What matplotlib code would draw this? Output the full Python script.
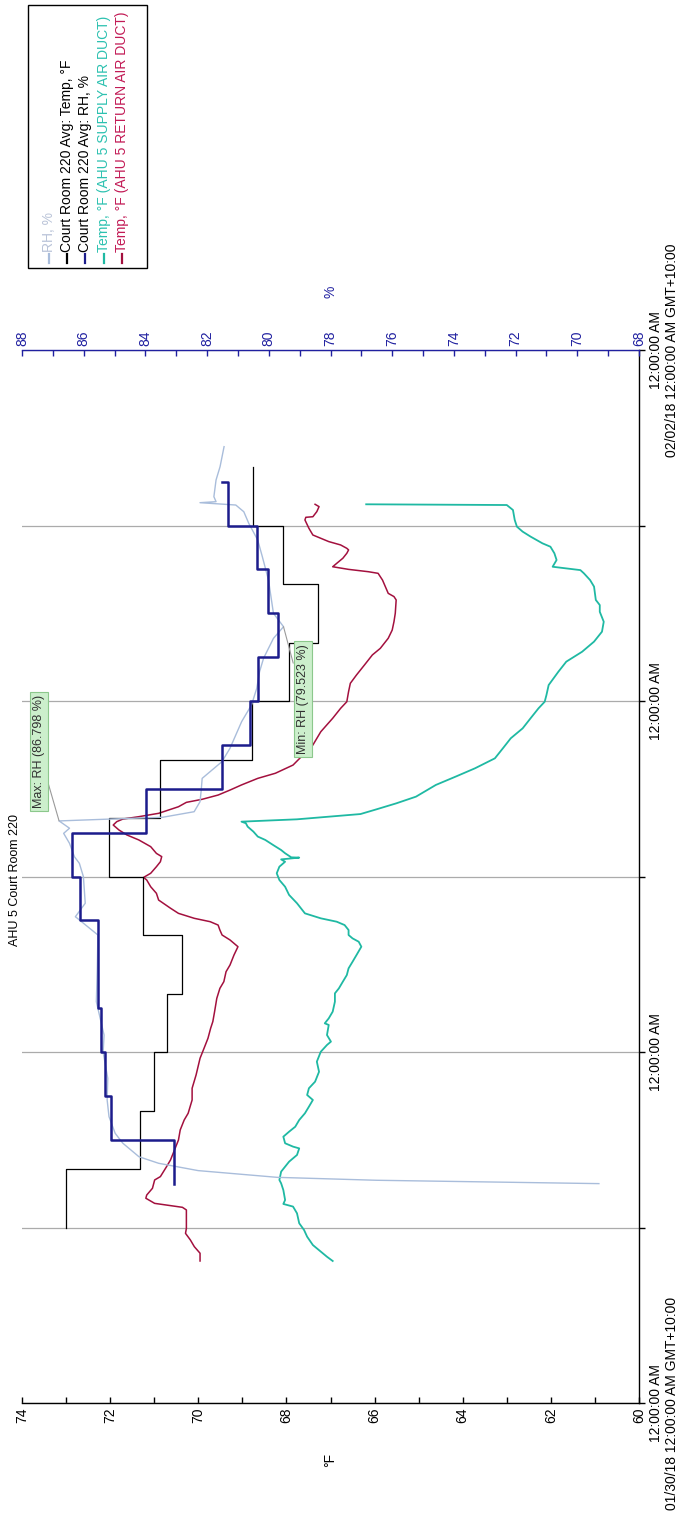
import numpy as np
import matplotlib
matplotlib.use("Agg")
import matplotlib.pyplot as plt
from matplotlib.lines import Line2D
from matplotlib.patches import Rectangle
from matplotlib.ticker import MultipleLocator

plt.rcParams['font.family'] = ['Liberation Sans', 'DejaVu Sans']

# ---------------- data (hours after 01/30/18 12:00:00 AM) ----------------
room_temp_edges = [12, 16, 20, 24, 28, 32, 36, 40, 44, 48, 52, 56, 60, 64]
room_temp_values = [73.01, 71.33, 71.01, 70.70, 70.38, 71.26, 72.03, 70.86,
                    68.78, 67.94, 67.29, 68.08, 68.76]

room_rh_edges = [15, 18, 21, 24, 27, 30, 33, 36, 39, 42, 45, 48, 51, 54, 57, 60, 63, 63]
room_rh_values = [83.06, 85.10, 85.32, 85.44, 85.55, 85.55, 86.11, 86.38, 83.98,
                  81.52, 80.62, 80.34, 79.71, 80.01, 80.39, 81.33, 81.52]

rh_hours = [15.0, 15.23, 15.43, 15.89, 16.39, 16.84, 17.76, 18.44, 19.58, 20.72,
            22.2, 23.98, 25.16, 27.44, 29.72, 32.0, 33.03, 33.25, 34.17, 35.99,
            36.9, 37.35, 38.27, 38.95, 39.3, 39.8, 39.93, 40.05, 40.43, 41.11,
            41.91, 42.71, 43.85, 44.76, 46.59, 47.73, 48.87, 50.0, 50.92, 52.28,
            53.08, 54.0, 56.27, 57.87, 59.01, 60.15, 60.94, 61.40, 61.56, 61.63,
            61.97, 63.11, 64.02, 65.39]
rh_values = [69.30, 76.52, 79.73, 82.29, 83.57, 84.21, 84.73, 84.98, 85.18, 85.24,
             85.22, 85.37, 85.34, 85.59, 85.56, 85.54, 86.14, 86.27, 85.95, 86.01,
             86.14, 86.30, 86.46, 86.65, 86.46, 86.798, 85.11, 83.44, 82.42, 82.23,
             82.19, 82.16, 81.52, 81.26, 80.88, 80.56, 80.39, 80.30, 80.17, 79.85,
             79.523, 79.85, 80.01, 80.21, 80.36, 80.65, 80.81, 81.07, 82.23, 81.71,
             81.78, 81.71, 81.58, 81.45]

supply_hours = [9.71, 10.0, 10.35, 10.8, 11.37, 11.83, 12.29, 12.97, 13.43, 13.61,
                13.88, 14.56, 15.02, 15.25, 15.82, 16.16, 16.5, 16.96, 17.41, 17.53,
                17.76, 18.21, 18.55, 18.89, 19.35, 19.81, 20.26, 20.72, 21.06, 21.52,
                21.97, 22.65, 23.34, 24.02, 24.48, 24.71, 25.16, 25.85, 25.96, 26.3,
                26.76, 27.44, 28.01, 28.35, 28.81, 29.26, 29.72, 30.17, 30.63, 31.2,
                31.54, 31.77, 32.0, 32.34, 32.68, 32.91, 33.14, 33.48, 34.17, 34.74,
                35.3, 35.76, 36.22, 36.67, 37.01, 37.17, 37.29, 37.31, 37.59, 37.81,
                38.15, 38.5, 38.73, 39.07, 39.41, 39.64, 39.75, 39.91, 40.27, 40.59,
                41.0, 41.46, 42.26, 42.83, 43.4, 44.08, 44.76, 45.45, 46.13, 46.82,
                47.5, 47.95, 48.41, 49.09, 50.0, 50.69, 51.37, 52.06, 52.74, 53.42,
                54.1, 54.56, 54.91, 55.82, 56.27, 56.73, 56.95, 57.18, 57.64, 58.1,
                58.55, 58.78, 59.24, 59.58, 59.92, 60.38, 61.06, 61.4, 61.45]
supply_temp = [66.95, 67.08, 67.22, 67.40, 67.53, 67.60, 67.71, 67.76, 67.85, 68.07,
               68.03, 68.07, 68.12, 68.16, 68.12, 68.03, 67.94, 67.76, 67.71, 67.85,
               68.03, 68.07, 67.94, 67.80, 67.71, 67.58, 67.49, 67.40, 67.53, 67.49,
               67.35, 67.26, 67.31, 67.22, 67.08, 66.99, 67.08, 67.04, 67.13, 67.04,
               66.95, 66.90, 66.90, 66.81, 66.72, 66.63, 66.59, 66.50, 66.41, 66.30,
               66.36, 66.50, 66.59, 66.59, 66.68, 66.86, 67.22, 67.58, 67.76, 67.94,
               68.03, 68.16, 68.22, 68.16, 68.03, 68.12, 67.71, 67.89, 68.03, 68.12,
               68.30, 68.48, 68.65, 68.75, 68.88, 68.92, 69.02, 67.76, 66.32, 65.96,
               65.51, 65.06, 64.61, 64.16, 63.72, 63.27, 63.09, 62.91, 62.64, 62.46,
               62.28, 62.14, 62.10, 62.05, 61.83, 61.65, 61.29, 61.02, 60.84, 60.80,
               60.89, 60.89, 60.98, 61.02, 61.11, 61.25, 61.33, 61.96, 61.87, 61.92,
               62.01, 62.19, 62.46, 62.64, 62.77, 62.82, 62.86, 63.00, 66.19]

return_hours = [9.71, 10.24, 10.69, 11.15, 11.6, 11.94, 13.2, 13.38, 13.65, 14.0,
                14.22, 14.68, 15.25, 15.48, 16.16, 16.62, 17.3, 17.98, 18.67, 19.35,
                19.81, 20.72, 21.52, 22.43, 23.57, 24.25, 24.94, 25.62, 26.08, 26.76,
                27.67, 28.35, 28.81, 29.49, 29.95, 30.63, 31.2, 31.66, 32.0, 32.34,
                32.68, 32.91, 33.14, 33.48, 33.83, 34.39, 34.85, 35.3, 35.76, 35.94,
                36.22, 36.67, 37.01, 37.36, 37.58, 38.04, 38.5, 38.84, 39.18, 39.52,
                39.75, 39.93, 40.09, 40.32, 40.77, 41.07, 41.28, 41.57, 41.91, 42.26,
                42.71, 43.06, 43.62, 44.99, 45.9, 46.82, 47.5, 47.95, 48.64, 49.21,
                49.78, 50.46, 51.15, 51.6, 52.29, 52.85, 53.42, 54.0, 54.91, 55.14,
                55.36, 56.27, 56.73, 56.84, 57.0, 57.18, 57.41, 57.76, 58.1, 58.33,
                58.44, 58.67, 58.9, 59.35, 59.81, 60.38, 60.56, 60.6, 60.95, 61.29,
                61.45]
return_temp = [69.96, 69.96, 70.09, 70.18, 70.29, 70.27, 70.27, 70.36, 70.99, 71.19,
               71.17, 71.04, 70.99, 70.86, 70.72, 70.63, 70.54, 70.45, 70.41, 70.32,
               70.23, 70.14, 70.14, 70.05, 69.96, 69.87, 69.78, 69.72, 69.67, 69.63,
               69.58, 69.51, 69.42, 69.37, 69.28, 69.19, 69.10, 69.28, 69.46, 69.51,
               69.55, 69.73, 70.09, 70.45, 70.63, 70.90, 70.95, 71.08, 71.17, 71.24,
               71.08, 70.95, 70.86, 70.83, 70.95, 71.08, 71.35, 71.62, 71.80, 71.93,
               71.85, 71.71, 71.35, 70.90, 70.45, 70.27, 69.91, 69.55, 69.28, 69.02,
               68.65, 68.25, 67.85, 67.40, 67.22, 66.95, 66.77, 66.63, 66.59, 66.55,
               66.41, 66.23, 66.05, 65.87, 65.69, 65.60, 65.56, 65.53, 65.51, 65.56,
               65.69, 65.82, 65.92, 66.14, 66.59, 66.95, 66.86, 66.72, 66.63, 66.59,
               66.63, 66.77, 67.04, 67.40, 67.49, 67.58, 67.56, 67.40, 67.31, 67.26,
               67.35]

time_ticks = [0, 12, 24, 36, 48, 60, 72]
time_labels = ['12:00:00 AM\n01/30/18 12:00:00 AM GMT+10:00', '', '12:00:00 AM', '',
               '12:00:00 AM', '', '12:00:00 AM\n02/02/18 12:00:00 AM GMT+10:00']
temp_ticks = [74, 72, 70, 68, 66, 64, 62, 60]
rh_ticks = [88, 86, 84, 82, 80, 78, 76, 74, 72, 70, 68]

legend_labels = ['RH, %', 'Court Room 220 Avg: Temp, °F', 'Court Room 220 Avg: RH, %',
                 'Temp, °F (AHU 5 SUPPLY AIR DUCT)', 'Temp, °F (AHU 5 RETURN AIR DUCT)']

# ---------------- styles ----------------
C_RH = '#a9bddb'
C_ROOM_T = '#000000'
C_ROOM_RH = '#1c1c8c'
C_SUP = '#1fb9a3'
C_RET = '#a3103e'
C_AX2 = '#2020a0'

W, H = 691, 1514
fig = plt.figure(figsize=(W / 100, H / 100), dpi=100)


def fx(x):
    return x / W


def fy(y):
    return 1 - y / H


L, R, T, B = 22, 639, 350, 1403
ax = fig.add_axes([fx(L), fy(B), fx(R) - fx(L), fy(T) - fy(B)])
ax.set_xlim(74, 60)
ax.set_ylim(0, 72)
ax.set_facecolor('none')

# grid every 12 h
ax.set_yticks(time_ticks)
ax.set_yticklabels(time_labels, rotation=90, va='center', ha='left',
                   multialignment='center', fontsize=10)
ax.yaxis.tick_right()
ax.yaxis.grid(True, color='#ababab', lw=0.9)
ax.set_axisbelow(True)
ax.tick_params(axis='y', direction='out', length=4, pad=3, width=1, color='black')

ax.set_xticks(temp_ticks)
ax.xaxis.set_minor_locator(MultipleLocator(1))
ax.set_xticklabels([str(t) for t in temp_ticks], rotation=90, fontsize=10)
ax.tick_params(axis='x', which='both', direction='in', length=4, pad=3, width=1)
ax.set_xlabel('°F', rotation=90, fontsize=10, labelpad=22)

for s in ['top', 'left']:
    ax.spines[s].set_visible(False)
for s in ['bottom', 'right']:
    ax.spines[s].set_color('black')
    ax.spines[s].set_linewidth(1)


def step_xy(edges, values):
    tt = np.repeat(np.asarray(edges, float), 2)[1:-1]
    vv = np.repeat(np.asarray(values, float), 2)
    return vv, tt


# temperature series
ax.plot(return_temp, return_hours, color=C_RET, lw=1.1, zorder=3)
ax.plot(supply_temp, supply_hours, color=C_SUP, lw=1.3, zorder=3)
vx, ty = step_xy(room_temp_edges, room_temp_values)
ax.plot(vx, ty, color=C_ROOM_T, lw=0.9, zorder=4)

# RH axis (top)
ax2 = ax.twiny()
ax2.set_xlim(88, 68)
ax2.set_ylim(0, 72)
ax2.set_xticks(rh_ticks)
ax2.xaxis.set_minor_locator(MultipleLocator(1))
ax2.set_xticklabels([str(t) for t in rh_ticks], rotation=90, fontsize=10, color=C_AX2)
ax2.tick_params(axis='x', which='both', direction='in', length=4, pad=3, width=1,
                color=C_AX2)
ax2.set_xlabel('%', rotation=90, fontsize=10, color=C_AX2, labelpad=25)
for s in ['bottom', 'left', 'right']:
    ax2.spines[s].set_visible(False)
ax2.spines['top'].set_color(C_AX2)
ax2.spines['top'].set_linewidth(1)

ax2.plot(rh_values, rh_hours, color=C_RH, lw=1.0, zorder=2)
vx, ty = step_xy(room_rh_edges, room_rh_values)
ax2.plot(vx, ty, color=C_ROOM_RH, lw=1.8, zorder=5)

# annotations
box = dict(boxstyle='square,pad=0.25', fc='#ccefcc', ec='#8cc88c', lw=0.8)
ax2.annotate('Max: RH (86.798 %)', xy=(86.798, 39.8), xytext=(87.45, 44.55),
             rotation=90, ha='center', va='center', fontsize=9, color='#303030',
             bbox=box, arrowprops=dict(arrowstyle='-', color='#9a9a9a', lw=0.8,
                                       shrinkA=0, shrinkB=0), zorder=6)
ax2.annotate('Min: RH (79.523 %)', xy=(79.523, 53.08), xytext=(78.90, 48.14),
             rotation=90, ha='center', va='center', fontsize=9, color='#303030',
             bbox=box, arrowprops=dict(arrowstyle='-', color='#9a9a9a', lw=0.8,
                                       shrinkA=0, shrinkB=0), zorder=6)

# title
fig.text(fx(15), fy(880), 'AHU 5 Court Room 220', rotation=90, ha='center',
         va='center', fontsize=9)

# legend (rotated, drawn by hand)
fig.add_artist(Rectangle((fx(28), fy(268)), fx(147) - fx(28), fy(5) - fy(268),
                         transform=fig.transFigure, fill=False, ec='black', lw=1))
leg_x = [49, 67, 85, 104, 122]
marker_colors = [C_RH, C_ROOM_T, C_ROOM_RH, C_SUP, C_RET]
text_colors = ['#b9c3d8', 'black', 'black', '#2cc1b0', '#c21a55']
for xx, lab, mc, tc in zip(leg_x, legend_labels, marker_colors, text_colors):
    fig.add_artist(Line2D([fx(xx), fx(xx)], [fy(263), fy(254)],
                          transform=fig.transFigure, color=mc, lw=1.6))
    fig.text(fx(xx), fy(252), lab, rotation=90, ha='center', va='bottom',
             fontsize=10, color=tc)

fig.savefig('out.png', dpi=100)
